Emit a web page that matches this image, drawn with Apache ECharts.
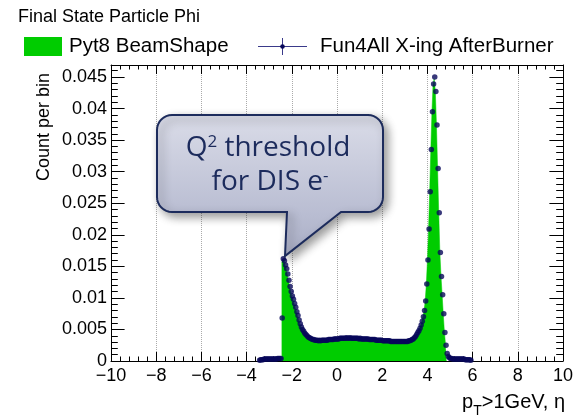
<!DOCTYPE html>
<html>
<head>
<meta charset="utf-8">
<script src="https://cdn.jsdelivr.net/npm/echarts@6/dist/echarts.min.js"></script>
<style>
html,body{margin:0;padding:0;background:#fff;}
#chart{width:576px;height:419px;}
</style>
</head>
<body>
<div id="chart"></div>
<script>
// ---- data (bin width 0.05 in eta) ----
const binWidth = 0.05;
const xRange = [-10, 10];
const yRange = [0, 0.0469];
const chartTitle = 'Final State Particle Phi';
const seriesNames = ['Pyt8 BeamShape', 'Fun4All X-ing AfterBurner'];

// Pyt8 BeamShape histogram: first bin lower edge and bin contents
const pyt8Start = -2.45;
const pyt8Values = [
  0.0157,0.0160,0.0158,0.0152,0.0145,0.0137,0.0127,0.0118,0.0110,0.0102,
  0.0097,0.0091,0.0084,0.0078,0.0071,0.0065,0.0059,0.0054,0.0050,0.0046,
  0.0044,0.0041,0.0039,0.0038,0.0037,0.0036,0.0035,0.0034,0.0034,0.0033,
  0.0033,0.0033,0.0033,0.0032,0.0033,0.0033,0.0032,0.0033,0.0033,0.0033,
  0.0034,0.0034,0.0033,0.0034,0.0034,0.0035,0.0034,0.0035,0.0035,0.0035,
  0.0035,0.0035,0.0036,0.0036,0.0036,0.0036,0.0036,0.0036,0.0036,0.0036,
  0.0036,0.0036,0.0036,0.0036,0.0036,0.0036,0.0035,0.0036,0.0035,0.0035,
  0.0035,0.0035,0.0035,0.0035,0.0034,0.0035,0.0034,0.0034,0.0034,0.0034,
  0.0034,0.0033,0.0034,0.0033,0.0033,0.0033,0.0033,0.0032,0.0033,0.0032,
  0.0032,0.0032,0.0032,0.0031,0.0032,0.0031,0.0031,0.0031,0.0031,0.0031,
  0.0031,0.0030,0.0031,0.0031,0.0031,0.0030,0.0031,0.0031,0.0031,0.0031,
  0.0031,0.0031,0.0031,0.0032,0.0033,0.0033,0.0035,0.0036,0.0039,0.0041,
  0.0044,0.0048,0.0052,0.0056,0.0062,0.0070,0.0079,0.0094,0.0120,0.0158,
  0.0207,0.0266,0.0333,0.0393,0.0438,0.0447,0.0428,0.0376,0.0307,0.0237,
  0.0174,0.0136,0.0106,0.0076,0.0047,0.0027
];

// Fun4All X-ing AfterBurner points: first bin lower edge and bin contents
const fun4allStart = -3.45;
const fun4allValues = [
  0.0001,0.0002,0.0002,0.0002,0.0003,0.0003,0.0003,0.0003,0.0003,0.0003,
  0.0003,0.0003,0.0003,0.0003,0.0003,0.0003,0.0004,0.0004,0.0004,0.0004,
  0.0068,0.0162,0.0159,0.0152,0.0146,0.0138,0.0128,0.0118,0.0110,0.0103,
  0.0098,0.0091,0.0085,0.0078,0.0072,0.0065,0.0059,0.0054,0.0050,0.0047,
  0.0044,0.0042,0.0040,0.0038,0.0037,0.0036,0.0035,0.0034,0.0034,0.0033,
  0.0033,0.0033,0.0032,0.0033,0.0032,0.0033,0.0033,0.0033,0.0033,0.0033,
  0.0033,0.0034,0.0034,0.0034,0.0034,0.0034,0.0035,0.0035,0.0035,0.0035,
  0.0035,0.0036,0.0036,0.0036,0.0036,0.0036,0.0036,0.0037,0.0036,0.0036,
  0.0037,0.0036,0.0036,0.0036,0.0036,0.0036,0.0036,0.0036,0.0035,0.0036,
  0.0035,0.0035,0.0035,0.0035,0.0035,0.0035,0.0035,0.0034,0.0034,0.0034,
  0.0034,0.0034,0.0034,0.0033,0.0033,0.0033,0.0033,0.0033,0.0033,0.0032,
  0.0032,0.0032,0.0032,0.0032,0.0032,0.0032,0.0031,0.0031,0.0031,0.0031,
  0.0031,0.0031,0.0031,0.0031,0.0031,0.0031,0.0031,0.0031,0.0031,0.0031,
  0.0031,0.0031,0.0032,0.0032,0.0033,0.0034,0.0035,0.0037,0.0039,0.0042,
  0.0045,0.0048,0.0052,0.0057,0.0063,0.0070,0.0080,0.0095,0.0122,0.0160,
  0.0209,0.0268,0.0335,0.0395,0.0439,0.0450,0.0427,0.0374,0.0305,0.0235,
  0.0172,0.0134,0.0105,0.0075,0.0045,0.0025,0.0012,0.0007,0.0005,0.0004,
  0.0004,0.0003,0.0003,0.0003,0.0003,0.0003,0.0003,0.0003,0.0003,0.0003,
  0.0003,0.0003,0.0002,0.0002,0.0002,0.0002,0.0002,0.0001
];

// ---- build series data ----
const pyt8Step = pyt8Values.map((v, i) => [+(pyt8Start + i * binWidth).toFixed(4), v]);
pyt8Step.push([+(pyt8Start + pyt8Values.length * binWidth).toFixed(4), pyt8Values[pyt8Values.length - 1]]);
const fun4allPoints = fun4allValues.map((v, i) => [+(fun4allStart + (i + 0.5) * binWidth).toFixed(4), v]);

// ---- styling ----
const FONT = 'Liberation Sans';
const NAVY = '#07075a';
const GREEN = '#00cc00';
const CALLOUT_NAVY = '#1c2b5c';

function xFmt(v) { return v < 0 ? '\u2212' + (-v) : String(v); }
function yFmt(v) { return String(+(+v).toFixed(3)); }

function calloutPoints(x0, y0, x1, y1, r, tl, tr, tipX, tipY) {
  const pts = [];
  const arc = (cx, cy, a0, a1) => {
    const n = 8;
    for (let k = 0; k <= n; k++) {
      const a = (a0 + (a1 - a0) * k / n) * Math.PI / 180;
      pts.push([cx + r * Math.cos(a), cy + r * Math.sin(a)]);
    }
  };
  arc(x1 - r, y0 + r, -90, 0);
  arc(x1 - r, y1 - r, 0, 90);
  pts.push([tr, y1]);
  pts.push([tipX, tipY]);
  pts.push([tl, y1]);
  arc(x0 + r, y1 - r, 90, 180);
  arc(x0 + r, y0 + r, 180, 270);
  return pts;
}

const axisLineStyle = { show: true, onZero: false, lineStyle: { color: '#000', width: 1 } };

const chart = echarts.init(document.getElementById('chart'), null, { renderer: 'canvas' });
chart.setOption({
  animation: false,
  backgroundColor: '#fff',
  grid: { left: 111, top: 65, width: 453, height: 296, containLabel: false },
  xAxis: [
    {
      type: 'value', min: xRange[0], max: xRange[1], interval: 2, position: 'bottom',
      axisLine: axisLineStyle,
      axisTick: { show: true, inside: true, length: 9, lineStyle: { color: '#000' } },
      minorTick: { show: true, splitNumber: 5, length: 4.5, lineStyle: { color: '#000' } },
      axisLabel: { fontFamily: FONT, fontSize: 18, color: '#000', margin: 6, formatter: xFmt },
      splitLine: { show: true, lineStyle: { color: '#aaa', type: 'dotted', width: 1 } }
    },
    {
      type: 'value', min: xRange[0], max: xRange[1], interval: 2, position: 'top',
      axisLine: axisLineStyle,
      axisTick: { show: true, inside: true, length: 9, lineStyle: { color: '#000' } },
      minorTick: { show: true, splitNumber: 5, length: 4.5, lineStyle: { color: '#000' } },
      axisLabel: { show: false },
      splitLine: { show: false }
    }
  ],
  yAxis: [
    {
      type: 'value', min: yRange[0], max: yRange[1], interval: 0.005, position: 'left',
      axisLine: axisLineStyle,
      axisTick: { show: true, inside: true, length: 13.6, lineStyle: { color: '#000' } },
      minorTick: { show: true, splitNumber: 5, length: 6.8, lineStyle: { color: '#000' } },
      axisLabel: { fontFamily: FONT, fontSize: 18, color: '#000', margin: 4, formatter: yFmt, showMaxLabel: false },
      splitLine: { show: false }
    },
    {
      type: 'value', min: yRange[0], max: yRange[1], interval: 0.005, position: 'right',
      axisLine: axisLineStyle,
      axisTick: { show: true, inside: true, length: 13.6, lineStyle: { color: '#000' } },
      minorTick: { show: true, splitNumber: 5, length: 6.8, lineStyle: { color: '#000' } },
      axisLabel: { show: false },
      splitLine: { show: false }
    }
  ],
  series: [
    {
      name: seriesNames[0], type: 'line', step: 'end', data: pyt8Step,
      xAxisIndex: 0, yAxisIndex: 0, symbol: 'none', z: 2,
      lineStyle: { width: 0.5, color: GREEN },
      areaStyle: { color: GREEN, opacity: 1 }
    },
    {
      name: seriesNames[1], type: 'scatter', data: fun4allPoints,
      xAxisIndex: 0, yAxisIndex: 0, symbol: 'circle', symbolSize: 5.5, z: 3,
      itemStyle: { color: NAVY }
    }
  ],
  graphic: [
    { type: 'text', x: 18, y: 17, style: { text: chartTitle, font: '18px ' + FONT, fill: '#000', verticalAlign: 'middle' } },
    // legend
    { type: 'rect', shape: { x: 24, y: 37, width: 38, height: 19 }, style: { fill: GREEN } },
    { type: 'text', x: 69, y: 46.5, style: { text: seriesNames[0], font: '20.5px ' + FONT, fill: '#000', verticalAlign: 'middle' } },
    { type: 'line', shape: { x1: 258, y1: 46.5, x2: 307, y2: 46.5 }, style: { stroke: '#3a3a8a', lineWidth: 1 } },
    { type: 'line', shape: { x1: 282.5, y1: 38, x2: 282.5, y2: 55 }, style: { stroke: '#3a3a8a', lineWidth: 1 } },
    { type: 'circle', shape: { cx: 282.5, cy: 46.5, r: 2.3 }, style: { fill: NAVY } },
    { type: 'text', x: 320, y: 46.5, style: { text: seriesNames[1], font: '20.5px ' + FONT, fill: '#000', verticalAlign: 'middle' } },
    // axis titles
    { type: 'text', x: 44, y: 73, rotation: Math.PI / 2,
      style: { text: 'Count per bin', font: '18px ' + FONT, fill: '#000', align: 'right', verticalAlign: 'middle' } },
    { type: 'text', x: 565, y: 402,
      style: { text: 'p{sub|T}>1GeV, \u03b7', font: '20px ' + FONT, fill: '#000', align: 'right', verticalAlign: 'middle',
        rich: { sub: { fontFamily: FONT, fontSize: 14, verticalAlign: 'bottom', lineHeight: 32, fill: '#000' } } } },
    // callout
    { type: 'polygon', z: 100,
      shape: { points: calloutPoints(157, 115, 383, 212, 15, 287, 341, 285, 256) },
      style: {
        fill: { type: 'linear', x: 0, y: 0, x2: 0, y2: 1, colorStops: [
          { offset: 0, color: '#dadce8' }, { offset: 0.7, color: '#b9bdd2' }, { offset: 1, color: '#a9adc4' } ] },
        stroke: CALLOUT_NAVY, lineWidth: 2,
        shadowBlur: 10, shadowColor: 'rgba(0,0,0,0.4)', shadowOffsetX: 4, shadowOffsetY: 4
      } },
    { type: 'text', z: 101, x: 268, y: 148,
      style: { text: 'Q{sup|2} threshold', font: '28px "Open Sans"', fill: CALLOUT_NAVY, align: 'center', verticalAlign: 'middle',
        rich: { sup: { fontFamily: 'Open Sans', fontSize: 17, lineHeight: 28, verticalAlign: 'top', fill: CALLOUT_NAVY } } } },
    { type: 'text', z: 101, x: 270, y: 182,
      style: { text: 'for DIS e{sup|-}', font: '28px "Open Sans"', fill: CALLOUT_NAVY, align: 'center', verticalAlign: 'middle',
        rich: { sup: { fontFamily: 'Open Sans', fontSize: 17, lineHeight: 20, verticalAlign: 'top', fill: CALLOUT_NAVY } } } }
  ]
});
</script>
</body>
</html>
